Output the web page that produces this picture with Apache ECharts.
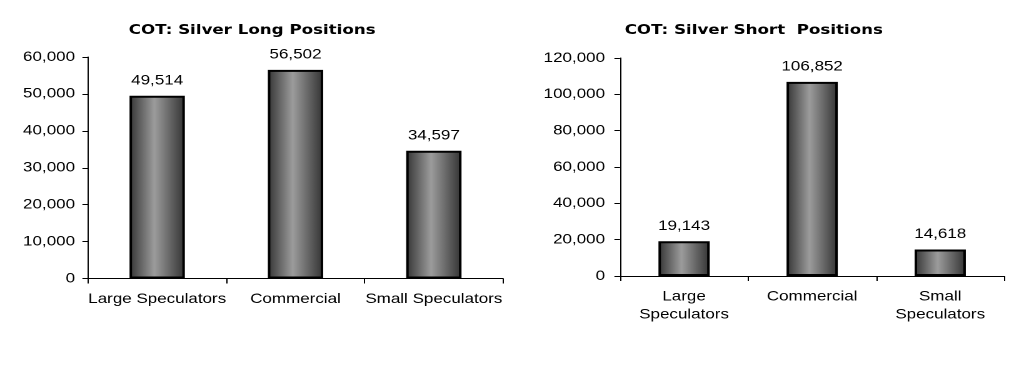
<!DOCTYPE html>
<html>
<head>
<meta charset="utf-8">
<script src="https://cdn.jsdelivr.net/npm/echarts@6/dist/echarts.min.js"></script>
<style>
html,body{margin:0;padding:0;background:#fff;overflow:hidden;}
#chart{width:823px;height:370px;transform:scaleX(1.25030);transform-origin:0 0;}
</style>
</head>
<body>
<div id="chart"></div>
<script>
var categories = ['Large Speculators', 'Commercial', 'Small Speculators'];
var longValues = [49514, 56502, 34597];
var shortValues = [19143, 106852, 14618];
var longTitle = 'COT: Silver Long Positions';
var shortTitle = 'COT: Silver Short  Positions';

var chart = echarts.init(document.getElementById('chart'), null, {renderer: 'canvas', devicePixelRatio: 2});
var AX_FONT = 'Liberation Sans, Arial, sans-serif';
var TI_FONT = 'DejaVu Sans, Verdana, sans-serif';
var FS = 13.6;
var TFS = 13.33;

function barGradient() {
  return new echarts.graphic.LinearGradient(0, 0, 1, 0, [
    {offset: 0, color: '#353535'},
    {offset: 0.45, color: '#9c9c9c'},
    {offset: 1, color: '#333333'}
  ]);
}
function fmt(v) { return echarts.format.addCommas(v); }

function xAxis(gridIndex, wrap) {
  return {
    type: 'category', gridIndex: gridIndex, data: categories,
    axisLine: {show: true, lineStyle: {color: '#000', width: 1}},
    axisTick: {show: true, alignWithLabel: false, length: 5, lineStyle: {color: '#000'}},
    axisLabel: {
      interval: 0, color: '#000', fontFamily: AX_FONT, fontSize: FS,
      margin: wrap ? 11.5 : 12.5, lineHeight: wrap ? 18 : 16, align: 'center',
      formatter: wrap ? function (v) { return v.replace(' ', '\n'); } : null
    },
    splitLine: {show: false}
  };
}
function yAxis(gridIndex, max, interval, margin) {
  return {
    type: 'value', gridIndex: gridIndex, min: 0, max: max, interval: interval,
    axisLine: {show: true, lineStyle: {color: '#000', width: 1}},
    axisTick: {show: true, length: 4.5, lineStyle: {color: '#000'}},
    axisLabel: {color: '#000', fontFamily: AX_FONT, fontSize: FS, margin: margin,
      formatter: function (v) { return fmt(v); }},
    splitLine: {show: false}
  };
}
function barSeries(idx, data) {
  return {
    type: 'bar', xAxisIndex: idx, yAxisIndex: idx, data: data,
    barWidth: '40%',
    itemStyle: {color: barGradient(), borderColor: '#000', borderWidth: 2},
    label: {show: true, position: 'top', distance: 8, color: '#000',
      fontFamily: AX_FONT, fontSize: FS,
      formatter: function (p) { return fmt(p.value); }},
    emphasis: {disabled: true},
    animation: false
  };
}

chart.setOption({
  animation: false,
  backgroundColor: '#fff',
  title: [
    {text: longTitle, left: 196.7, top: 19, textAlign: 'center',
      textStyle: {fontFamily: TI_FONT, fontWeight: 'bold', fontSize: TFS, color: '#000'}},
    {text: shortTitle, left: 597.9, top: 19, textAlign: 'center',
      textStyle: {fontFamily: TI_FONT, fontWeight: 'bold', fontSize: TFS, color: '#000'}}
  ],
  grid: [
    {left: 70.4, top: 57, width: 331.9, height: 221.5},
    {left: 495.9, top: 58, width: 307.3, height: 218}
  ],
  xAxis: [xAxis(0, false), xAxis(1, true)],
  yAxis: [yAxis(0, 60000, 10000, 10.4), yAxis(1, 120000, 20000, 12)],
  series: [barSeries(0, longValues), barSeries(1, shortValues)]
});
</script>
</body>
</html>
